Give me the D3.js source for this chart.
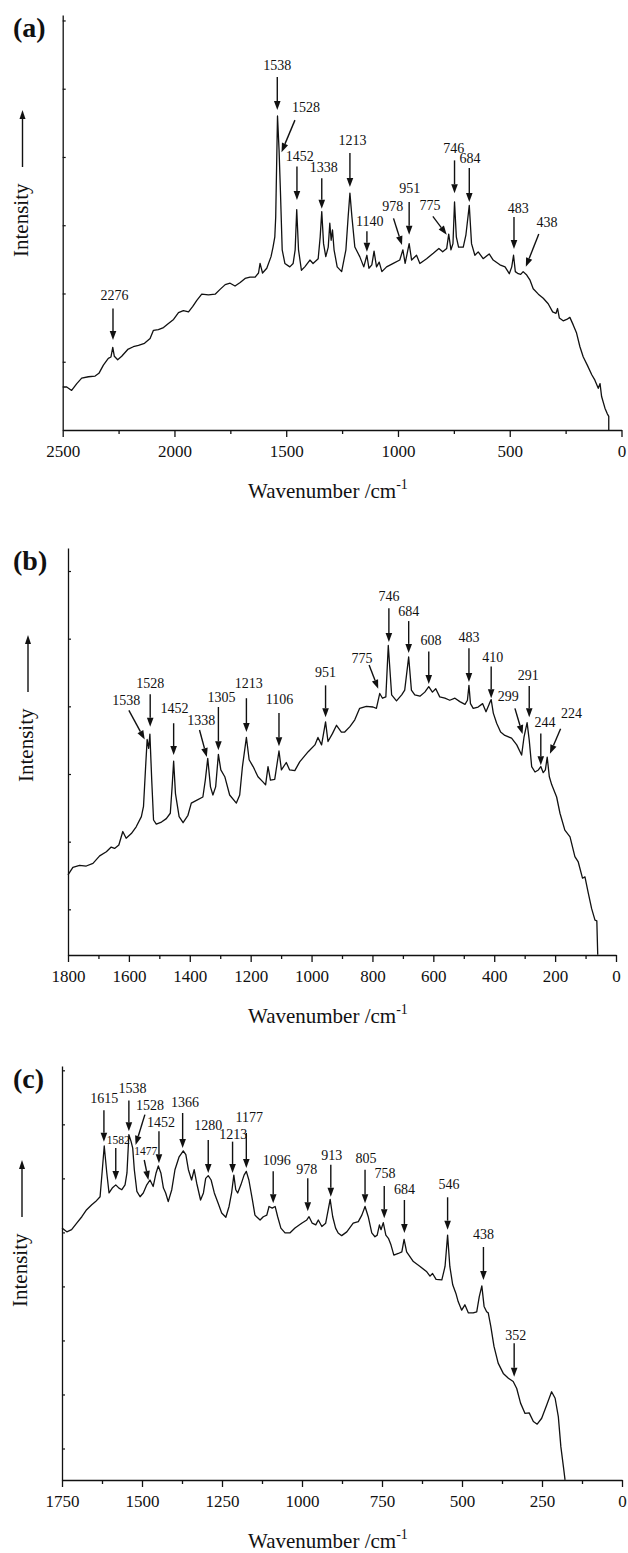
<!DOCTYPE html>
<html>
<head>
<meta charset="utf-8">
<script src="https://cdn.jsdelivr.net/npm/d3@7"></script>
<style>
  body { margin: 0; background: #fff; }
  svg { display: block; font-family: "Liberation Serif", "Times New Roman", serif; }
</style>
</head>
<body>
<svg id="chart" width="628" height="1553"></svg>
<script>
// Raman spectra: [wavenumber /cm-1, intensity (arbitrary units)]
const specA = [
  [2500,0.63],[2482,0.63],[2460,0.58],[2437,0.68],[2415,0.76],[2385,0.78],[2355,0.79],[2338,0.83],[2318,0.95],
  [2296,1.05],[2284,1.07],[2276,1.21],[2269,1.08],[2254,1.03],[2236,1.08],[2209,1.18],[2184,1.22],[2161,1.24],
  [2134,1.27],[2109,1.34],[2094,1.46],[2072,1.47],[2049,1.50],[2027,1.56],[2004,1.62],[1982,1.72],[1960,1.75],
  [1937,1.73],[1918,1.81],[1900,1.90],[1878,1.99],[1848,1.98],[1818,1.99],[1796,2.06],[1773,2.13],[1751,2.15],
  [1729,2.11],[1706,2.16],[1684,2.22],[1662,2.24],[1639,2.24],[1624,2.30],[1617,2.44],[1606,2.30],[1587,2.37],
  [1568,2.54],[1559,2.68],[1551,2.83],[1547,3.12],[1539,4.60],[1532,4.10],[1526,3.51],[1518,2.64],[1506,2.44],
  [1484,2.39],[1469,2.44],[1460,2.64],[1453,3.23],[1445,2.64],[1432,2.34],[1417,2.39],[1394,2.49],[1380,2.44],
  [1357,2.51],[1348,2.83],[1341,3.20],[1333,2.73],[1323,2.54],[1312,2.68],[1305,3.03],[1299,2.78],[1293,2.93],
  [1286,2.64],[1272,2.39],[1252,2.32],[1233,2.64],[1223,3.12],[1215,3.47],[1206,3.12],[1193,2.68],[1171,2.54],
  [1153,2.39],[1139,2.56],[1130,2.37],[1117,2.42],[1107,2.62],[1096,2.39],[1084,2.46],[1072,2.32],[1051,2.39],
  [1021,2.44],[992,2.49],[978,2.64],[968,2.44],[950,2.73],[939,2.49],[917,2.56],[902,2.44],[872,2.51],[842,2.59],
  [817,2.66],[800,2.61],[782,2.66],[773,2.87],[763,2.64],[754,2.73],[747,3.34],[739,2.83],[729,2.68],[708,2.68],
  [696,2.86],[681,3.29],[671,2.73],[656,2.56],[641,2.61],[619,2.51],[592,2.58],[574,2.49],[544,2.42],[521,2.39],
  [502,2.29],[491,2.39],[483,2.56],[475,2.32],[462,2.29],[451,2.28],[440,2.32],[424,2.27],[410,2.20],[395,2.07],
  [372,1.99],[350,1.93],[328,1.85],[308,1.73],[293,1.71],[286,1.78],[278,1.64],[261,1.60],[245,1.62],[231,1.65],
  [216,1.54],[201,1.42],[186,1.22],[171,1.07],[153,0.95],[133,0.81],[119,0.73],[104,0.61],[96,0.68],[89,0.49],
  [74,0.32],[64,0.24],[57,0.20],[57,0]
];

const specB = [
  [1800,1.51],[1784,1.62],[1762,1.65],[1740,1.64],[1718,1.68],[1696,1.79],[1674,1.85],[1658,1.92],[1647,1.90],
  [1633,1.95],[1620,2.15],[1609,2.05],[1592,2.12],[1576,2.22],[1559,2.37],[1552,2.52],[1545,3.11],[1540,3.51],
  [1535,3.38],[1531,3.59],[1525,2.91],[1519,2.32],[1510,2.26],[1493,2.29],[1477,2.34],[1464,2.42],[1458,2.81],
  [1453,3.19],[1447,2.71],[1435,2.37],[1422,2.28],[1406,2.39],[1395,2.57],[1378,2.61],[1357,2.66],[1349,2.91],
  [1341,3.23],[1332,2.81],[1324,2.69],[1315,2.81],[1306,3.29],[1298,3.06],[1285,2.96],[1269,2.69],[1247,2.57],
  [1236,2.69],[1227,3.11],[1214,3.54],[1205,3.21],[1192,3.11],[1176,2.96],[1159,2.88],[1151,2.84],[1143,3.11],
  [1135,2.91],[1121,2.92],[1107,3.34],[1099,3.06],[1083,3.17],[1072,3.06],[1055,3.05],[1039,3.18],[1011,3.33],
  [989,3.43],[979,3.54],[967,3.43],[954,3.77],[946,3.48],[931,3.60],[918,3.72],[902,3.62],[891,3.62],[874,3.70],
  [858,3.80],[842,3.97],[820,4.00],[798,3.99],[787,3.97],[776,4.19],[767,4.12],[756,4.14],[748,4.90],[737,4.17],
  [721,4.08],[704,4.17],[694,4.24],[681,4.73],[672,4.24],[661,4.17],[644,4.15],[628,4.21],[615,4.29],[603,4.21],
  [592,4.26],[579,4.14],[562,4.12],[546,4.09],[529,4.12],[513,4.07],[496,4.03],[488,4.09],[483,4.31],[478,4.04],
  [469,3.97],[453,3.99],[438,4.04],[427,3.92],[416,4.04],[410,4.10],[403,3.90],[392,3.75],[379,3.62],[365,3.57],
  [343,3.53],[326,3.43],[310,3.28],[302,3.55],[292,3.76],[285,3.50],[277,3.11],[266,3.03],[255,3.06],[247,3.11],
  [239,3.02],[232,3.06],[226,3.25],[219,2.96],[211,2.84],[195,2.66],[184,2.42],[168,2.17],[151,2.07],[135,1.78],
  [124,1.70],[110,1.46],[102,1.48],[91,1.24],[80,1.01],[69,0.84],[63,0.83],[60,0.33]
];

const specC = [
  [1750,5.08],[1735,5.01],[1720,5.05],[1704,5.17],[1688,5.29],[1673,5.42],[1657,5.51],[1645,5.57],[1631,5.66],
  [1624,6.16],[1618,6.60],[1610,6.10],[1603,5.73],[1593,5.82],[1582,5.88],[1572,5.82],[1563,5.79],[1553,5.88],
  [1547,6.10],[1541,6.81],[1534,6.68],[1529,6.56],[1524,6.16],[1516,5.76],[1506,5.66],[1496,5.73],[1485,5.88],
  [1475,5.97],[1465,5.85],[1456,6.10],[1449,6.23],[1441,6.10],[1433,5.82],[1426,5.73],[1418,5.57],[1407,5.79],
  [1397,6.16],[1384,6.40],[1371,6.51],[1363,6.44],[1355,6.16],[1345,5.97],[1337,6.16],[1329,5.91],[1317,5.60],
  [1308,5.73],[1301,6.00],[1293,6.05],[1284,5.97],[1274,5.73],[1262,5.54],[1251,5.36],[1238,5.28],[1228,5.48],
  [1220,5.73],[1213,6.06],[1207,5.79],[1201,5.73],[1191,5.88],[1181,6.06],[1174,6.13],[1166,5.97],[1155,5.60],
  [1147,5.32],[1142,5.29],[1131,5.23],[1121,5.29],[1110,5.32],[1103,5.48],[1093,5.45],[1084,5.48],[1076,5.29],
  [1066,5.08],[1053,4.99],[1038,4.99],[1022,5.08],[1001,5.17],[985,5.23],[978,5.29],[968,5.17],[957,5.14],
  [949,5.23],[938,5.11],[926,5.17],[918,5.42],[912,5.61],[904,5.29],[895,5.08],[887,4.99],[876,4.94],[860,5.01],
  [840,5.17],[824,5.20],[813,5.32],[803,5.48],[793,5.29],[782,4.99],[772,4.92],[765,4.95],[758,5.14],[753,5.05],
  [746,5.18],[738,4.95],[730,4.89],[722,4.77],[713,4.58],[699,4.61],[688,4.64],[681,4.87],[673,4.64],[666,4.58],
  [652,4.46],[631,4.37],[610,4.27],[600,4.19],[592,4.24],[581,4.13],[563,4.12],[553,4.37],[545,4.95],[538,4.37],
  [529,4.03],[519,3.87],[512,3.72],[501,3.56],[491,3.66],[480,3.51],[465,3.51],[454,3.53],[446,3.81],[438,4.01],
  [431,3.63],[423,3.53],[418,3.51],[410,3.26],[400,2.89],[387,2.58],[371,2.39],[355,2.30],[340,2.24],[329,2.11],
  [317,1.84],[303,1.65],[290,1.66],[277,1.50],[265,1.45],[251,1.56],[235,1.81],[220,2.05],[209,1.93],[199,1.59],
  [191,1.03],[183,0.66],[178,0.42]
];

// Peak annotations: [label, label wn, label I, arrow start wn, arrow start I, arrow tip wn, arrow tip I]
const peaksA = [
  ["2276", 2268, 1.98, 2275, 1.78, 2275, 1.32],
  ["1538", 1540, 5.34, 1540, 5.17, 1540, 4.69],
  ["1528", 1412, 4.73, 1461, 4.54, 1521, 4.07],
  ["1452", 1439, 4.01, 1452, 3.86, 1452, 3.37],
  ["1338", 1332, 3.85, 1341, 3.69, 1341, 3.24],
  ["1213", 1203, 4.24, 1215, 4.06, 1215, 3.56],
  ["1140", 1126, 3.06, 1139, 2.91, 1139, 2.61],
  ["978", 1023, 3.28, 1020, 3.10, 982, 2.71],
  ["951", 947, 3.55, 950, 3.34, 950, 2.86],
  ["775", 857, 3.29, 844, 3.13, 782, 2.86],
  ["746", 750, 4.13, 747, 3.95, 747, 3.47],
  ["684", 678, 3.98, 681, 3.84, 681, 3.34],
  ["483", 462, 3.25, 481, 3.12, 481, 2.65],
  ["438", 333, 3.04, 370, 2.87, 428, 2.39]
];

const peaksB = [
  ["1538", 1609, 4.09, 1600, 3.94, 1548, 3.51],
  ["1528", 1530, 4.34, 1530, 4.18, 1530, 3.70],
  ["1452", 1450, 3.98, 1453, 3.75, 1453, 3.28],
  ["1338", 1362, 3.80, 1368, 3.65, 1344, 3.25],
  ["1305", 1296, 4.14, 1306, 3.99, 1306, 3.35],
  ["1213", 1206, 4.35, 1214, 4.12, 1214, 3.62],
  ["1106", 1105, 4.10, 1107, 3.90, 1107, 3.41],
  ["951", 954, 4.51, 954, 4.31, 954, 3.84],
  ["775", 834, 4.72, 811, 4.61, 781, 4.26],
  ["746", 746, 5.63, 746, 5.45, 746, 4.95],
  ["684", 681, 5.41, 681, 5.26, 681, 4.79],
  ["608", 608, 4.98, 615, 4.81, 615, 4.33],
  ["483", 483, 5.02, 483, 4.86, 483, 4.36],
  ["410", 405, 4.73, 410, 4.59, 410, 4.12],
  ["299", 354, 4.15, 332, 3.97, 307, 3.59],
  ["291", 288, 4.46, 285, 4.30, 285, 3.84],
  ["244", 233, 3.77, 247, 3.60, 247, 3.13],
  ["224", 146, 3.90, 182, 3.67, 217, 3.30]
];

const peaksC = [
  ["1615", 1618, 7.49, 1619, 7.26, 1619, 6.68],
  ["1538", 1530, 7.67, 1541, 7.44, 1541, 6.87],
  ["1528", 1475, 7.36, 1491, 7.18, 1520, 6.62],
  ["1582", 1574, 6.71, 1582, 6.56, 1582, 5.97],
  ["1452", 1441, 7.05, 1447, 6.87, 1447, 6.28],
  ["1477", 1488, 6.50, 1493, 6.34, 1480, 5.97],
  ["1366", 1366, 7.42, 1373, 7.21, 1373, 6.56],
  ["1280", 1293, 6.99, 1293, 6.71, 1293, 6.10],
  ["1213", 1215, 6.82, 1217, 6.68, 1217, 6.10],
  ["1177", 1165, 7.13, 1174, 6.84, 1174, 6.19],
  ["1096", 1079, 6.34, 1090, 6.13, 1090, 5.54],
  ["978", 985, 6.17, 982, 6.00, 982, 5.39],
  ["913", 907, 6.44, 910, 6.25, 910, 5.66],
  ["805", 800, 6.37, 803, 6.16, 803, 5.54],
  ["758", 741, 6.10, 743, 5.86, 743, 5.26],
  ["684", 680, 5.80, 680, 5.60, 680, 4.99],
  ["546", 541, 5.89, 545, 5.65, 545, 5.05],
  ["438", 433, 4.97, 433, 4.73, 433, 4.12],
  ["352", 332, 3.10, 337, 2.95, 337, 2.33]
];

// Axis tick labels
const xTicksA = [2500, 2000, 1500, 1000, 500, 0];
const xTicksB = [1800, 1600, 1400, 1200, 1000, 800, 600, 400, 200, 0];
const xTicksC = [1750, 1500, 1250, 1000, 750, 500, 250, 0];

// Layout of the three stacked panels
const panels = [
  { name: "(a)", spec: specA, peaks: peaksA, ticks: xTicksA, minorStep: 250,
    xDomain: [2500, 0], yDomain: [0, 6.08], yTicks: d3.range(1, 7),
    left: 62.7, right: 621.5, top: 15, bottom: 430, intensityX: 27.5 },
  { name: "(b)", spec: specB, peaks: peaksB, ticks: xTicksB, minorStep: 100,
    xDomain: [1800, 0], yDomain: [0.325, 6.34], yTicks: d3.range(1, 7),
    left: 68, right: 616, top: 548, bottom: 955, intensityX: 33 },
  { name: "(c)", spec: specC, peaks: peaksC, ticks: xTicksC, minorStep: 125,
    xDomain: [1750, 0], yDomain: [0.417, 8.08], yTicks: d3.range(1, 9),
    left: 62, right: 622, top: 1066, bottom: 1480, intensityX: 27 }
];

const smallLabels = new Set(["(c)1582", "(c)1477"]);

const svg = d3.select("#chart");

function arrow(g, x1, y1, x2, y2, headLen = 9, headHalf = 3.3) {
  const dx = x2 - x1, dy = y2 - y1;
  const len = Math.hypot(dx, dy);
  const ux = dx / len, uy = dy / len;
  const bx = x2 - ux * headLen, by = y2 - uy * headLen;
  g.append("line")
    .attr("x1", x1).attr("y1", y1).attr("x2", bx).attr("y2", by)
    .attr("stroke", "#111").attr("stroke-width", 1.4);
  g.append("path")
    .attr("d", `M${x2},${y2}L${bx - uy * headHalf},${by + ux * headHalf}L${bx + uy * headHalf},${by - ux * headHalf}Z`)
    .attr("fill", "#111");
}

function drawPanel(p) {
  const x = d3.scaleLinear().domain(p.xDomain).range([p.left, p.right]);
  const y = d3.scaleLinear().domain(p.yDomain).range([p.bottom, p.top]);
  const g = svg.append("g");

  // minor x ticks
  const minor = d3.range(p.xDomain[1], p.xDomain[0] + 1, p.minorStep).filter(v => !p.ticks.includes(v));
  g.append("g")
    .attr("transform", `translate(0,${p.bottom})`)
    .call(d3.axisBottom(x).tickValues(minor).tickSize(4).tickSizeOuter(0).tickFormat(""))
    .call(s => s.select(".domain").remove())
    .call(s => s.selectAll(".tick line").attr("stroke", "#111").attr("stroke-width", 1.3));

  // major x ticks with labels
  g.append("g")
    .attr("transform", `translate(0,${p.bottom})`)
    .call(d3.axisBottom(x).tickValues(p.ticks).tickSize(7).tickPadding(8).tickSizeOuter(0).tickFormat(d3.format("d")))
    .attr("font-size", 17)
    .attr("font-family", null)
    .call(s => s.select(".domain").attr("stroke", "#111").attr("stroke-width", 1.3))
    .call(s => s.selectAll(".tick line").attr("stroke", "#111").attr("stroke-width", 1.3))
    .call(s => s.selectAll(".tick text").attr("fill", "#111"));

  // y axis: plain line, ticks pointing inwards, no labels
  g.append("g")
    .attr("transform", `translate(${p.left},0)`)
    .call(d3.axisRight(y).tickValues(p.yTicks).tickSize(3).tickSizeOuter(0).tickFormat(""))
    .call(s => s.select(".domain").attr("stroke", "#111").attr("stroke-width", 1.3))
    .call(s => s.selectAll(".tick line").attr("stroke", "#111").attr("stroke-width", 1.2));

  // spectrum
  const line = d3.line().x(d => x(d[0])).y(d => y(d[1]));
  g.append("path")
    .datum(p.spec)
    .attr("d", line)
    .attr("fill", "none")
    .attr("stroke", "#111")
    .attr("stroke-width", 1.3)
    .attr("stroke-linejoin", "round");

  // peak labels and arrows
  const ann = g.append("g");
  p.peaks.forEach(([label, lw, li, fw, fi, tw, ti]) => {
    arrow(ann, x(fw), y(fi), x(tw), y(ti));
    ann.append("text")
      .attr("x", x(lw)).attr("y", y(li))
      .attr("dy", "0.35em")
      .attr("text-anchor", "middle")
      .attr("font-size", smallLabels.has(p.name + label) ? 11.5 : 14)
      .attr("fill", "#111")
      .text(label);
  });

  // panel letter
  g.append("text")
    .attr("x", 13).attr("y", p.top + 22)
    .attr("font-size", 28).attr("font-weight", "bold")
    .attr("fill", "#111")
    .text(p.name);

  // "Intensity -->" label, reading upwards
  const yl = g.append("g")
    .attr("transform", `translate(${p.intensityX},${p.bottom - 173}) rotate(-90)`);
  yl.append("text")
    .attr("x", 0).attr("y", 0)
    .attr("font-size", 21).attr("fill", "#111")
    .text("Intensity");
  arrow(yl, 90, -5, 147, -5, 9, 3);

  // x axis title
  const xt = g.append("text")
    .attr("x", 248).attr("y", p.bottom + 68)
    .attr("font-size", 21).attr("fill", "#111");
  xt.append("tspan").text("Wavenumber /cm");
  xt.append("tspan").attr("dy", -9).attr("font-size", 14).text("-1");
}

panels.forEach(drawPanel);
</script>
</body>
</html>
